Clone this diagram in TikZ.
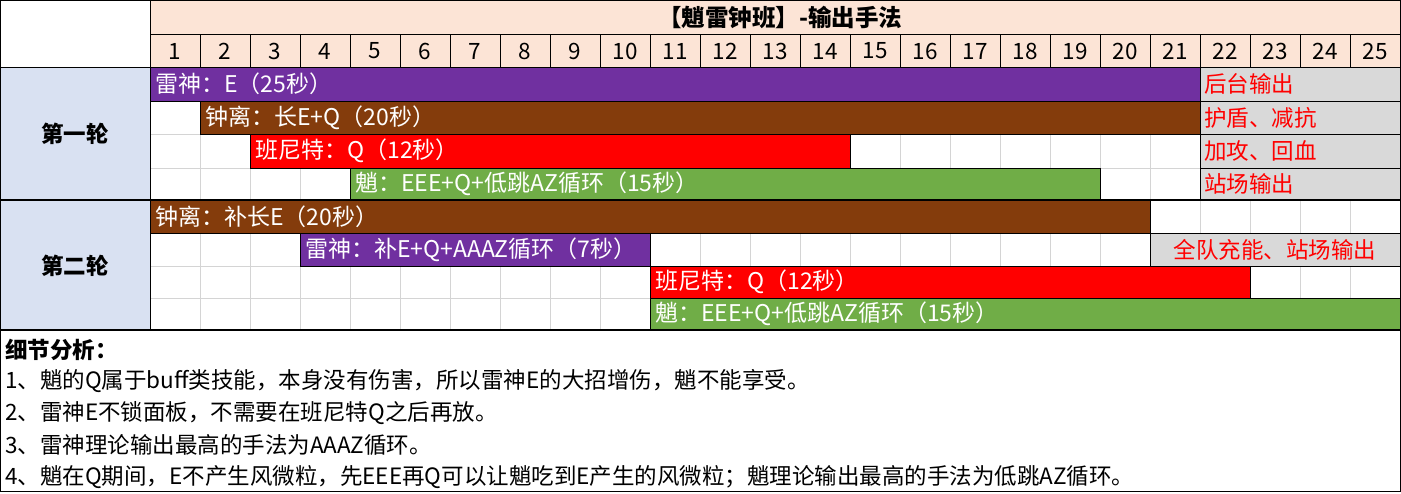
\documentclass[tikz,border=0pt]{standalone}
\usepackage{fontspec}
\setmainfont{Noto Sans CJK SC}
\definecolor{purp}{HTML}{7030A0}
\definecolor{brn}{HTML}{843C0C}
\definecolor{redb}{HTML}{FF0000}
\definecolor{grn}{HTML}{70AD47}
\definecolor{gry}{HTML}{D9D9D9}
\definecolor{peach}{HTML}{FCE4D6}
\definecolor{lblue}{HTML}{D9E1F2}
\definecolor{gridc}{HTML}{D4D4D4}
\newcommand{\fs}{\fontsize{22.5}{26}\selectfont}
\newcommand{\fsb}{\fontsize{23}{27}\selectfont}
\newcommand{\fst}{\fontsize{23.5}{27}\selectfont}
\begin{document}
\begin{tikzpicture}[x=1pt,y=-1pt,
  bar/.style={draw=black,line width=0.9pt},
  bartext/.style={anchor=west,text=white,font=\fsb,inner sep=0pt},
  graytext/.style={anchor=west,text=redb,font=\fs,inner sep=0pt},
  notetext/.style={anchor=west,font=\fs,inner sep=0pt},
  numtext/.style={font=\fs,inner sep=0pt},
  gridline/.style={draw=gridc,line width=0.8pt},
  blk/.style={draw=black,line width=0.9pt},
  thick blk/.style={draw=black,line width=1.8pt}]
\useasboundingbox (0,0) rectangle (1401,493);
\fill[white] (0,0) rectangle (1401,493);
% backgrounds
\fill[peach] (150,0) rectangle (1400,67);
\fill[lblue] (0,67) rectangle (150,330);
% grid
\foreach \i in {1,...,24} \draw[gridline] ({150+50*\i},67) -- ({150+50*\i},330);
\foreach \y in {101,134,168,233,266,298} \draw[gridline] (150,\y) -- (1400,\y);
% number row
\foreach \i in {1,...,24} \draw[blk] ({150+50*\i},34) -- ({150+50*\i},67);
\foreach \i in {1,...,25} \node[numtext] (n\i) at ({125+50*\i},51) {\i};
\node[font=\fst\bfseries,inner sep=0pt] (title) at (780,17) {【魈雷钟班】-输出手法};
% round 1
\draw[bar,fill=purp] (150,67) rectangle (1200,101);
\node[bartext] (r1a) at (155,84) {雷神：E（25秒）};
\draw[bar,fill=brn] (200,101) rectangle (1200,134);
\node[bartext] (r1b) at (205,117.5) {钟离：长E+Q（20秒）};
\draw[bar,fill=redb] (250,134) rectangle (850,168);
\node[bartext] (r1c) at (255,151) {班尼特：Q（12秒）};
\draw[bar,fill=grn] (350,168) rectangle (1100,200);
\node[bartext] (r1d) at (355,184) {魈：EEE+Q+低跳AZ循环（15秒）};
\draw[bar,fill=gry] (1200,67) rectangle (1400,101);
\node[graytext] (g1) at (1204,84) {后台输出};
\draw[bar,fill=gry] (1200,101) rectangle (1400,134);
\node[graytext] (g2) at (1204,117.5) {护盾、减抗};
\draw[bar,fill=gry] (1200,134) rectangle (1400,168);
\node[graytext] (g3) at (1204,151) {加攻、回血};
\draw[bar,fill=gry] (1200,168) rectangle (1400,200);
\node[graytext] (g4) at (1204,184) {站场输出};
% round 2
\draw[bar,fill=brn] (150,200) rectangle (1150,233);
\node[bartext] (r2a) at (155,216.5) {钟离：补长E（20秒）};
\draw[bar,fill=purp] (300,233) rectangle (650,266);
\node[bartext] (r2b) at (305,249.5) {雷神：补E+Q+AAAZ循环（7秒）};
\draw[bar,fill=redb] (650,266) rectangle (1250,298);
\node[bartext] (r2c) at (655,282) {班尼特：Q（12秒）};
\draw[bar,fill=grn] (650,298) rectangle (1400,330);
\node[bartext] (r2d) at (655,314) {魈：EEE+Q+低跳AZ循环（15秒）};
\draw[bar,fill=gry] (1150,233) rectangle (1400,266);
\node[text=redb,font=\fs,inner sep=0pt] (g5) at (1275,249.5) {全队充能、站场输出};
% left labels
\node[font=\fs\bfseries,inner sep=0pt] (lab1) at (75,134) {第一轮};
\node[font=\fs\bfseries,inner sep=0pt] (lab2) at (75,266) {第二轮};
% structural lines
\draw[blk] (150,34) -- (1400,34);
\draw[blk] (0,67) -- (1400,67);
\draw[blk] (150,0) -- (150,330);
\draw[thick blk] (0,200) -- (1400,200);
\draw[thick blk] (0,330) -- (1400,330);
\draw[blk] (0.5,0.5) rectangle (1400,491);
% notes
\node[notetext,font=\fs\bfseries] (nt0) at (5,350) {细节分析：};
\node[notetext] (nt1) at (5,381) {1、魈的Q属于buff类技能，本身没有伤害，所以雷神E的大招增伤，魈不能享受。};
\node[notetext] (nt2) at (5,413) {2、雷神E不锁面板，不需要在班尼特Q之后再放。};
\node[notetext] (nt3) at (5,445) {3、雷神理论输出最高的手法为AAAZ循环。};
\node[notetext] (nt4) at (5,477) {4、魈在Q期间，E不产生风微粒，先EEE再Q可以让魈吃到E产生的风微粒；魈理论输出最高的手法为低跳AZ循环。};
\end{tikzpicture}
\end{document}
